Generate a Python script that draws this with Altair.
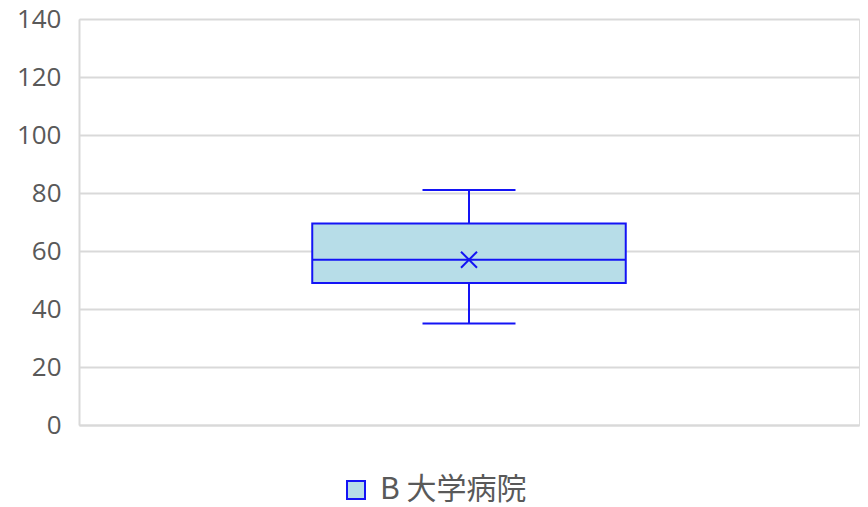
import altair as alt
import pandas as pd

# ---- data ----
categories = ["B 大学病院"]
mins = [35.0]
q1s = [49.0]
medians = [57.0]
q3s = [69.5]
maxs = [81.0]
means = [57.0]

df = pd.DataFrame({
    "cat": categories, "min": mins, "q1": q1s, "median": medians,
    "q3": q3s, "max": maxs, "mean": means,
})

BLUE = "#1414f5"
FILL = "#b7dde8"
TXT = "#595959"
GRID = "#d9d9d9"
FONT = "Open Sans"
CJK = "Noto Sans CJK JP"

x_enc = alt.X("cat:N", axis=alt.Axis(labels=False, ticks=False, title=None,
                                      domain=True, domainColor=GRID, domainWidth=2),
              scale=alt.Scale(paddingInner=0, paddingOuter=0.744))
y_scale = alt.Scale(domain=[0, 140])
y_axis = alt.Axis(values=[0, 20, 40, 60, 80, 100, 120, 140], title=None, ticks=False,
                  labelPadding=18, labelFontSize=26, labelColor=TXT, labelFont=FONT,
                  domainColor=GRID, domainWidth=2, gridColor=GRID, gridWidth=2)

base = alt.Chart(df)

whisk_lo = base.mark_rule(color=BLUE, strokeWidth=2, opacity=1).encode(
    x=x_enc, y=alt.Y("min:Q", scale=y_scale, axis=y_axis), y2="q1:Q")
whisk_hi = base.mark_rule(color=BLUE, strokeWidth=2, opacity=1).encode(
    x=x_enc, y=alt.Y("q3:Q", scale=y_scale), y2="max:Q")

box = base.mark_bar(stroke=BLUE, strokeWidth=2, opacity=1).encode(
    x=x_enc,
    y=alt.Y("q1:Q", scale=y_scale),
    y2="q3:Q",
    color=alt.Color("cat:N", scale=alt.Scale(range=[FILL]),
                    legend=alt.Legend(title=None, orient="none", legendX=262, legendY=456,
                                      symbolType="square", symbolSize=324,
                                      symbolStrokeColor=BLUE, symbolStrokeWidth=2,
                                      symbolFillColor=FILL, symbolOpacity=1,
                                      labelFontSize=30, labelFont=CJK, labelColor=TXT,
                                      labelOffset=9)),
)

median = base.mark_tick(color=BLUE, thickness=2, size=314, opacity=1).encode(
    x=x_enc, y=alt.Y("median:Q", scale=y_scale))
cap_lo = base.mark_tick(color=BLUE, thickness=2, size=93, opacity=1).encode(
    x=x_enc, y=alt.Y("min:Q", scale=y_scale))
cap_hi = base.mark_tick(color=BLUE, thickness=2, size=93, opacity=1).encode(
    x=x_enc, y=alt.Y("max:Q", scale=y_scale))

mean_pt = base.mark_point(shape="M-1,-1L1,1M-1,1L1,-1", filled=False, stroke=BLUE,
                          strokeWidth=2, size=256, opacity=1).encode(
    x=x_enc, y=alt.Y("mean:Q", scale=y_scale))

chart = alt.layer(whisk_lo, whisk_hi, box, median, cap_lo, cap_hi, mean_pt).properties(
    width=780, height=406,
    autosize=alt.AutoSizeParams(type="none"),
    padding={"left": 71, "top": 11, "right": 1, "bottom": 84},
).configure_view(stroke=None).configure(font=FONT)

chart.save("out.html", embed_options={"renderer": "svg", "actions": False})
